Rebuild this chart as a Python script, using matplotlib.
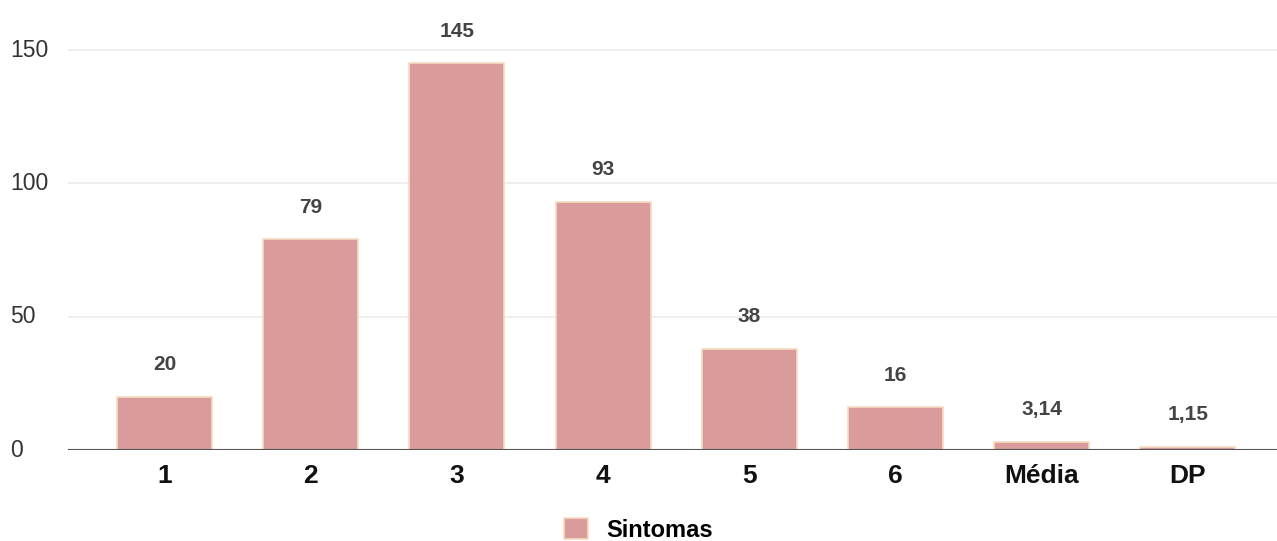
import matplotlib.pyplot as plt
import numpy as np

categorias = ["1", "2", "3", "4", "5", "6", "Média", "DP"]
valores = [20, 79, 145, 93, 38, 16, 3.14, 1.15]
rotulos = ["20", "79", "145", "93", "38", "16", "3,14", "1,15"]
yticks = [0, 50, 100, 150]

plt.rcParams["font.family"] = ["Liberation Sans", "DejaVu Sans"]

fig = plt.figure(figsize=(12.77, 5.41), dpi=100)
ax = fig.add_axes([0.0533, 0.168, 0.9467, 0.832])

x = np.arange(len(categorias))
bars = ax.bar(x, valores, width=0.65, color="#da9c9b", edgecolor="#f6dcc0",
              linewidth=1.2, label="Sintomas", zorder=3)

for xi, v, lab in zip(x, valores, rotulos):
    ax.text(xi, v + 8.5, lab, ha="center", va="bottom", fontsize=15,
            fontweight="bold", color="#444444")

ax.set_xlim(-0.66, 7.61)
ax.set_ylim(0, 168.75)
ax.set_yticks(yticks)
ax.tick_params(axis="y", length=0, labelleft=False)
ax.tick_params(axis="x", length=0, pad=10)
# y labels left-aligned at the figure edge
for t in yticks:
    ax.text(-0.048, t, str(t), transform=ax.get_yaxis_transform(),
            ha="left", va="center", fontsize=16.5, color="#333333")
ax.set_xticks(x)
ax.set_xticklabels(categorias, fontsize=19, fontweight="bold", color="#111111")

ax.grid(axis="y", color="#ebebeb", linewidth=1.2, zorder=0)
ax.axhline(0, color="#555555", linewidth=1.5, zorder=4)
for s in ax.spines.values():
    s.set_visible(False)

leg = fig.legend(handles=[bars], labels=["Sintomas"], loc="center",
                 bbox_to_anchor=(0.5, 0.02), frameon=False,
                 prop={"size": 17, "weight": "bold"}, handlelength=1.0,
                 handleheight=1.0, handletextpad=0.8)

fig.savefig("out.png", dpi=100)
